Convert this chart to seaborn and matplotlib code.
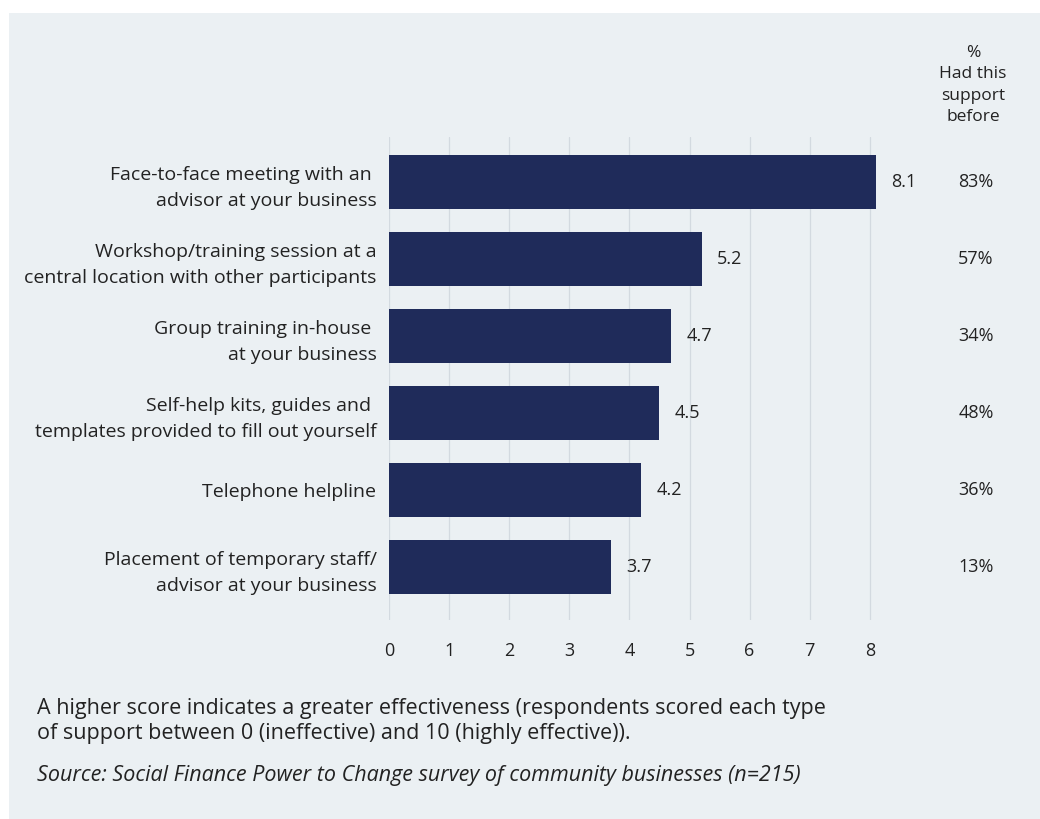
import matplotlib
matplotlib.use("Agg")
import matplotlib.pyplot as plt
import matplotlib.transforms as mtransforms
import seaborn as sns
import pandas as pd
from matplotlib.patches import Rectangle

categories = [
    "Face-to-face meeting with an \nadvisor at your business",
    "Workshop/training session at a\ncentral location with other participants",
    "Group training in-house \nat your business",
    "Self-help kits, guides and \ntemplates provided to fill out yourself",
    "Telephone helpline",
    "Placement of temporary staff/\nadvisor at your business",
]
scores = [8.1, 5.2, 4.7, 4.5, 4.2, 3.7]
had_before = ["83%", "57%", "34%", "48%", "36%", "13%"]
x_ticks = [0, 1, 2, 3, 4, 5, 6, 7, 8]

sns.set_theme(style="white")
plt.rcParams["font.family"] = ["Open Sans", "DejaVu Sans"]

BG = "#EBF0F3"
BAR = "#1F2B5A"
TXT = "#222222"
GRID = "#D3DAE0"

fig = plt.figure(figsize=(10.4, 8.19), dpi=100)
fig.patch.set_facecolor("white")
fig.patches.append(Rectangle((9 / 1040, 0), 1 - 9 / 1040, 1 - 13 / 819,
                             transform=fig.transFigure, facecolor=BG,
                             edgecolor="none", zorder=-10))

ax = fig.add_axes([389 / 1040, 1 - 620 / 819, 8.2 * 60.1 / 1040, (620 - 137) / 819])
ax.set_zorder(1)
ax.set_facecolor("none")
ax.patch.set_alpha(0)

df = pd.DataFrame({"category": categories, "score": scores})
sns.barplot(data=df, x="score", y="category", orient="h", color=BAR,
            saturation=1, width=0.71, ax=ax, zorder=3, linewidth=0)

ax.set_xlim(0, 8.2)
ax.set_ylim(5.69, -0.585)
ax.set_xticks(x_ticks)
ax.set_xticklabels([str(t) for t in x_ticks], fontsize=13, color=TXT)
ax.tick_params(axis="x", length=0, pad=16)
ax.tick_params(axis="y", length=0, pad=9)
for lab in ax.get_yticklabels():
    lab.set_fontsize(14)
    lab.set_color(TXT)
    lab.set_linespacing(1.6)
    lab.set_horizontalalignment("right")
    lab.set_multialignment("right")
ax.set_xlabel("")
ax.set_ylabel("")
for t in x_ticks:
    ax.axvline(t, color=GRID, lw=0.9, zorder=1)
for s in ax.spines.values():
    s.set_visible(False)

blend = mtransforms.blended_transform_factory(fig.transFigure, ax.transData)
for i, (v, p) in enumerate(zip(scores, had_before)):
    ax.text(v + 0.25, i, f"{v}", va="center", ha="left", fontsize=13, color=TXT)
    ax.text(976 / 1040, i, p, transform=blend, va="center", ha="center",
            fontsize=13, color=TXT, clip_on=False)

fig.text(973 / 1040, 1 - 85 / 819, "%\nHad this\nsupport\nbefore", ha="center",
         va="center", fontsize=12.5, color=TXT, linespacing=1.42)

fig.text(37 / 1040, 1 - 721 / 819,
         "A higher score indicates a greater effectiveness (respondents scored each type\n"
         "of support between 0 (ineffective) and 10 (highly effective)).",
         ha="left", va="center", fontsize=15.5, color=TXT, linespacing=1.3)
fig.text(37 / 1040, 1 - 776 / 819,
         "Source: Social Finance Power to Change survey of community businesses (n=215)",
         ha="left", va="center", fontsize=15.5, color=TXT, style="italic")

fig.savefig("out.png", dpi=100, facecolor=fig.get_facecolor())
